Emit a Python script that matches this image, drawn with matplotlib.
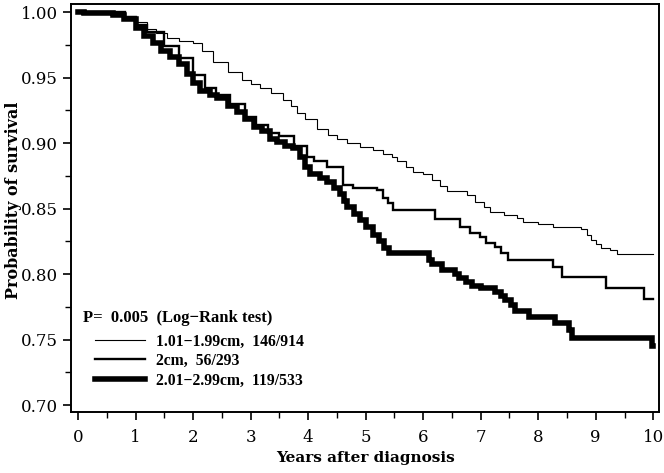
import numpy as np
import matplotlib
matplotlib.use('Agg')
import matplotlib.pyplot as plt
from matplotlib.lines import Line2D
from matplotlib.ticker import MultipleLocator, FormatStrFormatter

# Kaplan-Meier step curves (years, survival)
thin_t = [0, 0.2, 0.8, 1.0, 1.2, 1.35, 1.55, 1.75, 2.0, 2.15, 2.35, 2.6, 2.85, 3.0,
          3.17, 3.35, 3.57, 3.7, 3.8, 3.95, 4.16, 4.35, 4.5, 4.68, 4.9, 5.13, 5.3,
          5.45, 5.55, 5.7, 5.83, 6.0, 6.15, 6.3, 6.42, 6.77, 6.9, 7.05, 7.17, 7.4,
          7.63, 7.74, 8.0, 8.26, 8.75, 8.85, 8.92, 9.0, 9.1, 9.25, 9.37, 10.0]
thin_s = [1.000, 0.999, 0.997, 0.992, 0.987, 0.984, 0.980, 0.978, 0.976, 0.970,
          0.962, 0.954, 0.948, 0.945, 0.942, 0.938, 0.933, 0.928, 0.923, 0.918,
          0.911, 0.906, 0.903, 0.900, 0.897, 0.895, 0.892, 0.889, 0.886, 0.882,
          0.878, 0.876, 0.872, 0.867, 0.863, 0.860, 0.855, 0.851, 0.847, 0.845,
          0.843, 0.840, 0.838, 0.836, 0.834, 0.830, 0.826, 0.823, 0.820, 0.818,
          0.815, 0.815]

mid_t = [0, 0.82, 1.0, 1.2, 1.5, 1.75, 2.0, 2.2, 2.4, 2.65, 2.9, 3.1, 3.3, 3.5,
         3.75, 3.98, 4.1, 4.33, 4.6, 4.78, 5.2, 5.3, 5.38, 5.48, 6.2, 6.64, 6.82,
         6.99, 7.1, 7.25, 7.35, 7.48, 8.26, 8.41, 9.17, 9.84, 10.0]
mid_s = [1.000, 0.996, 0.990, 0.985, 0.974, 0.965, 0.952, 0.942, 0.937, 0.930,
         0.920, 0.914, 0.908, 0.905, 0.898, 0.889, 0.886, 0.882, 0.868, 0.866,
         0.864, 0.858, 0.854, 0.849, 0.842, 0.836, 0.831, 0.828, 0.824, 0.821,
         0.816, 0.811, 0.805, 0.798, 0.789, 0.781, 0.781]

thick_t = [0, 0.1, 0.6, 0.8, 1.0, 1.15, 1.3, 1.45, 1.6, 1.75, 1.89, 2.0, 2.12, 2.3,
           2.42, 2.6, 2.76, 2.9, 3.05, 3.2, 3.34, 3.45, 3.6, 3.74, 3.86, 3.95, 4.03,
           4.2, 4.33, 4.45, 4.56, 4.62, 4.68, 4.8, 4.9, 5.0, 5.13, 5.23, 5.32, 5.4,
           6.1, 6.16, 6.33, 6.56, 6.62, 6.75, 6.85, 7.0, 7.25, 7.35, 7.43, 7.52, 7.6,
           7.84, 8.3, 8.54, 8.59, 9.98, 10.0]
thick_s = [1.000, 0.999, 0.998, 0.995, 0.988, 0.982, 0.976, 0.970, 0.966, 0.960,
           0.953, 0.946, 0.940, 0.937, 0.934, 0.928, 0.924, 0.918, 0.912, 0.909,
           0.903, 0.901, 0.898, 0.896, 0.889, 0.882, 0.876, 0.873, 0.870, 0.866,
           0.861, 0.856, 0.851, 0.846, 0.841, 0.836, 0.830, 0.825, 0.820, 0.816,
           0.811, 0.808, 0.803, 0.800, 0.797, 0.794, 0.791, 0.789, 0.786, 0.783,
           0.780, 0.776, 0.772, 0.767, 0.763, 0.757, 0.751, 0.745, 0.745]

labels = ['1.01\u22121.99cm,  146/914', '2cm,  56/293', '2.01\u22122.99cm,  119/533']
widths = [0.8, 1.7, 4.0]
p_text = 'P=  0.005  (Log\u2212Rank test)'

plt.rcParams['font.family'] = 'DejaVu Serif'

fig = plt.figure(figsize=(6.64, 4.73), dpi=100)
ax = fig.add_axes([0.107, 0.129, 0.8855, 0.8625])

curves = [(thin_t, thin_s), (mid_t, mid_s), (thick_t, thick_s)]
for (t, s), lw in zip(curves, widths):
    ax.step(t, s, where='post', color='black', lw=lw, solid_joinstyle='miter')

ax.set_xlim(-0.122, 10.10)
ax.set_ylim(0.6947, 1.0061)
ax.xaxis.set_major_locator(MultipleLocator(1))
ax.xaxis.set_minor_locator(MultipleLocator(0.5))
ax.yaxis.set_major_locator(MultipleLocator(0.05))
ax.yaxis.set_minor_locator(MultipleLocator(0.025))
ax.yaxis.set_major_formatter(FormatStrFormatter('%.2f'))
ax.tick_params(axis='both', which='major', direction='out', length=6, width=1.2,
               labelsize=12, color='black')
ax.tick_params(axis='both', which='minor', direction='out', length=4, width=1.0)
ax.tick_params(axis='x', pad=6)
for sp in ax.spines.values():
    sp.set_linewidth(1.4)

ax.set_xlabel('Years after diagnosis', fontsize=11, fontweight='bold')
ax.set_ylabel('Probability of survival', fontsize=11.5, fontweight='bold')
ax.xaxis.set_label_coords(0.5, -0.095)
ax.yaxis.set_label_coords(-0.083, 0.52)

# P-value annotation (figure pixel position converted to fraction)
fig.text(83 / 664, 1 - 318 / 473, p_text, fontsize=12, fontweight='bold',
         family='Liberation Serif', va='center', ha='left')

handles = [Line2D([0], [0], color='black', lw=lw) for lw in widths]
leg = ax.legend(handles, labels, loc='center left',
                bbox_to_anchor=(24 / 588, 1 - (361 - 4) / 408),
                frameon=False,
                prop={'weight': 'bold', 'size': 11.3, 'family': 'Liberation Serif'},
                handlelength=3.2, handletextpad=0.7, labelspacing=0.22,
                borderaxespad=0, borderpad=0)

fig.savefig('out.png', dpi=100)
